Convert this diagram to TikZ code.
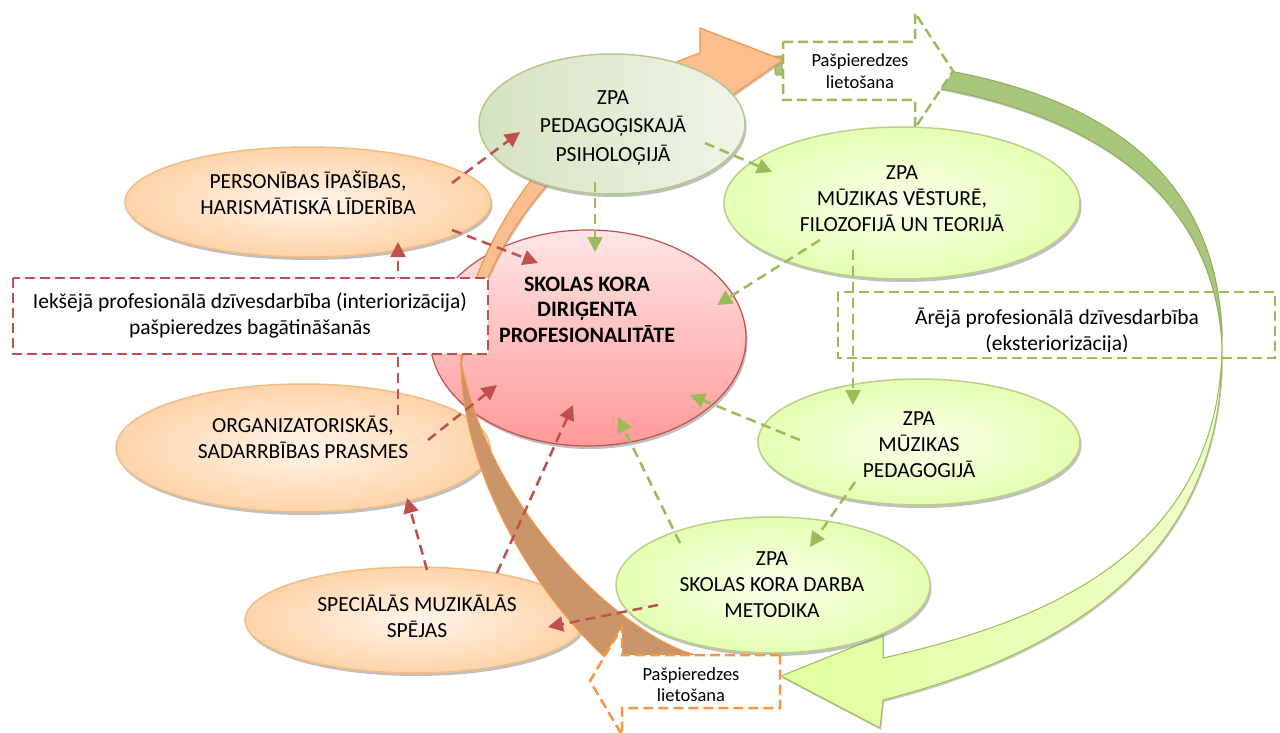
\documentclass[tikz,border=0pt]{standalone}
\usepackage{fontspec}
\setmainfont{Carlito}
\usetikzlibrary{shapes.geometric,arrows.meta,calc,shadows}

\definecolor{redline}{HTML}{C0504D}
\definecolor{greenline}{HTML}{9BBB59}
\definecolor{orangeline}{HTML}{F79646}
\definecolor{arcback}{HTML}{A8C67C}
\definecolor{arcbackline}{HTML}{8DAF57}
\definecolor{orfront}{HTML}{FBBE8E}
\definecolor{orback}{HTML}{C99468}
\definecolor{sageleft}{HTML}{D5E3C0}
\definecolor{sageright}{HTML}{F0F4E9}
\definecolor{sageline}{HTML}{B2C98E}

\newcommand{\lnstrut}{\rule{0pt}{18pt}}
\newcommand{\smstrut}{\rule{0pt}{16pt}}

\tikzset{
  ell/.style={ellipse, inner sep=0pt, line width=1.5pt,
    drop shadow={shadow xshift=1.5pt, shadow yshift=-3pt, fill=black!45, opacity=.55}},
  orangeell/.style={ell, draw=orange!45!white!95!black, inner color=orange!8!white, outer color=orange!34!white},
  greenell/.style={ell, draw=greenline!70!white, inner color=green!20!yellow!8!white, outer color=green!35!yellow!30!white},
  sagegreen/.style={ell, draw=sageline, left color=sageleft, right color=sageright},
  pinkell/.style={ell, draw=redline, line width=1.2pt, top color=red!10!white, bottom color=red!40!white},
  txt/.style={align=center, inner sep=0pt, anchor=north, font=\fontsize{21.5}{26}\selectfont},
  smalltxt/.style={align=center, inner sep=0pt, anchor=north, font=\fontsize{18.5}{21.5}\selectfont},
  redarrow/.style={draw=redline, line width=2.5pt, dash pattern=on 10pt off 6pt,
    -{Triangle[length=15pt,width=15pt]}},
  greenarrow/.style={draw=greenline, line width=2.5pt, dash pattern=on 10pt off 6pt,
    -{Triangle[length=15pt,width=15pt]}},
  boxline/.style={line width=2.5pt, dash pattern=on 10pt off 5pt},
  arcshadow/.style={drop shadow={shadow xshift=1pt, shadow yshift=-2pt, fill=black!40, opacity=.5}},
}

\begin{document}
\begin{tikzpicture}[x=1pt,y=-1pt]
\useasboundingbox (0,0) rectangle (1280,733);
\fill[white] (0,0) rectangle (1280,733);

% ---- big green curved arrow: dark back face, then light front face with head ----
\path[fill=arcback, draw=arcbackline, line width=1pt, arcshadow]
  (775,56) .. controls (1050,58) and (1222,140) .. (1222,345)
  .. controls (1212,170) and (1050,76) .. (775,74) -- cycle;
\path[left color=green!30!yellow!38!white, right color=green!30!yellow!20!white,
      draw=greenline, line width=1pt, arcshadow]
  (1222,345) .. controls (1226,560) and (1060,655) .. (883,700)
  -- (880,728) -- (781,676) -- (883,635) -- (883,658)
  .. controls (1030,625) and (1220,560) .. (1222,345) -- cycle;

% ---- centre and left ellipses ----
\node[pinkell, minimum width=316pt, minimum height=216pt] (core) at (588,338) {};
\node[orangeell, minimum width=366pt, minimum height=110pt] (pers) at (308,202) {};
\node[orangeell, minimum width=374pt, minimum height=128pt] (org) at (303,448) {};
\node[orangeell, minimum width=340pt, minimum height=106pt] (spec) at (415,620) {};

% ---- orange curved arrow: back face, then front face with head ----
\path[fill=orback, draw=orangeline, line width=1.2pt, arcshadow]
  (461,362) .. controls (462,470) and (530,590) .. (610,662)
  -- (700,662) -- (700,656)
  .. controls (640,645) and (495,530) .. (461,362) -- cycle;
\path[fill=orfront, draw=orangeline, line width=1.2pt, arcshadow]
  (461,362) .. controls (456,260) and (560,100) .. (700,53)
  -- (700,28) -- (783,60) -- (714,108) -- (706,86)
  .. controls (600,110) and (492,210) .. (461,362) -- cycle;

% ---- green ellipses ----
\node[sagegreen, minimum width=266pt, minimum height=140pt] (psy) at (612,124) {};
\node[greenell, minimum width=356pt, minimum height=152pt] (hist) at (902,203) {};
\node[greenell, minimum width=322pt, minimum height=126pt] (ped) at (919,442) {};
\node[greenell, minimum width=314pt, minimum height=136pt] (met) at (773,585) {};

% ---- dashed red connectors ----
\draw[redarrow] ($(pers)+(144,-19)$) -- ($(psy)+(-92,8)$);
\draw[redarrow] ($(pers)+(144,28)$) -- ($(core)+(-50,-75)$);
\draw[redarrow] ($(org)+(95,-33)$) -- ($(pers)+(90,40)$);
\draw[redarrow] ($(org)+(125,-8)$) -- ($(core)+(-91,47)$);
\draw[redarrow] ($(spec)+(12,-50)$) -- ($(org)+(104,50)$);
\draw[redarrow] ($(spec)+(82,-47)$) -- ($(core)+(-15,67)$);
\draw[redarrow] ($(met)+(-115,20)$) -- ($(spec)+(133,7)$);

% ---- dashed green connectors ----
\draw[greenarrow] ($(psy)+(-17,58)$) -- ($(core)+(7,-86)$);
\draw[greenarrow] ($(psy)+(93,19)$) -- ($(hist)+(-130,-31)$);
\draw[greenarrow] ($(hist)+(-82,37)$) -- ($(core)+(129,-33)$);
\draw[greenarrow] ($(hist)+(-49,47)$) -- ($(ped)+(-66,-37)$);
\draw[greenarrow] ($(ped)+(-119,-2)$) -- ($(core)+(102,57)$);
\draw[greenarrow] ($(ped)+(-64,40)$) -- ($(met)+(37,-38)$);
\draw[greenarrow] ($(met)+(-93,-42)$) -- ($(core)+(30,79)$);

% ---- text boxes ----
\draw[boxline, draw=redline, fill=white] (13,278) rectangle (488,354);
\draw[boxline, draw=greenline] (838,292) rectangle (1275,358);
\draw[boxline, draw=greenline, fill=white]
  (783,42) -- (915,42) -- (915,13) -- (953,71) -- (915,128) -- (915,100) -- (783,100) -- cycle;
\draw[boxline, draw=orangeline, fill=white]
  (780,655) -- (622,655) -- (622,627) -- (590,681) -- (622,735) -- (622,708) -- (780,708) -- cycle;

% ---- labels ----
\node[txt, font=\fontsize{21.5}{29}\selectfont] (psyT) at (613,85.8) {\lnstrut ZPA\\PEDAGOĢISKAJĀ\\PSIHOLOĢIJĀ};
\node[txt] (histT) at (902,160.8) {\lnstrut ZPA\\MŪZIKAS VĒSTURĒ,\\FILOZOFIJĀ UN TEORIJĀ};
\node[txt] (pedT) at (919,406.8) {\lnstrut ZPA\\MŪZIKAS\\PEDAGOGIJĀ};
\node[txt] (metT) at (772,546.8) {\lnstrut ZPA\\SKOLAS KORA DARBA\\METODIKA};
\node[txt, font=\fontsize{22}{25.5}\selectfont\bfseries] (coreT) at (587,272.8) {\lnstrut SKOLAS KORA\\DIRIĢENTA\\PROFESIONALITĀTE};
\node[txt] (persT) at (308,169.8) {\lnstrut PERSONĪBAS ĪPAŠĪBAS,\\HARISMĀTISKĀ LĪDERĪBA};
\node[txt] (orgT) at (303,413.8) {\lnstrut ORGANIZATORISKĀS,\\SADARRBĪBAS PRASMES};
\node[txt] (specT) at (417,592.8) {\lnstrut SPECIĀLĀS MUZIKĀLĀS\\SPĒJAS};
\node[txt] (innerT) at (250,290) {\lnstrut Iekšējā profesionālā dzīvesdarbība (interiorizācija)\\pašpieredzes bagātināšanās};
\begin{scope}
  \clip (838,292) rectangle (1275,351);
  \node[txt] (outerT) at (1057,306) {\lnstrut Ārējā profesionālā dzīvesdarbība\\(eksteriorizācija)};
\end{scope}
\node[smalltxt] (useTop) at (860,50.7) {\smstrut Pašpieredzes\\lietošana};
\node[smalltxt] (useBottom) at (691,664) {\smstrut Pašpieredzes\\lietošana};
\end{tikzpicture}
\end{document}
